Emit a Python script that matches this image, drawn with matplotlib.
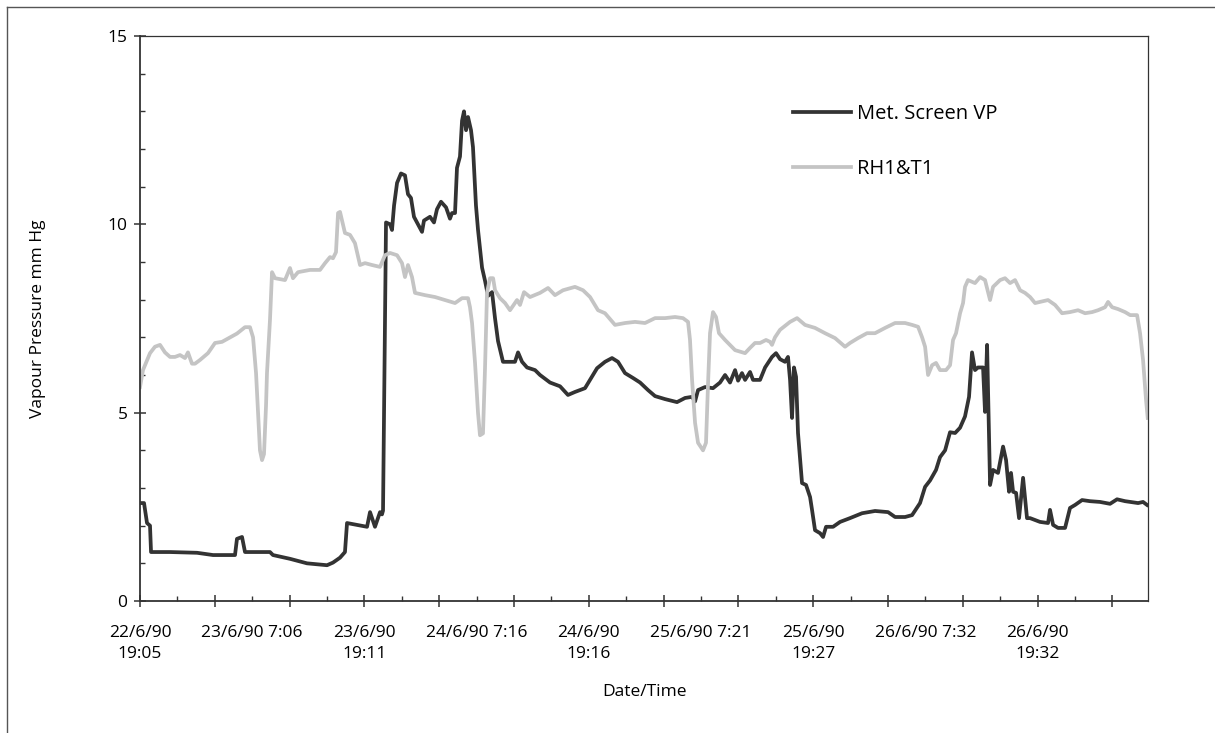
import matplotlib
matplotlib.use("Agg")
import matplotlib.pyplot as plt
from matplotlib.lines import Line2D
from matplotlib.ticker import MultipleLocator

plt.rcParams['font.family'] = ['Open Sans', 'DejaVu Sans']

# Hours elapsed since 22/6/90 19:05
met_hours = [0, 0.43, 0.75, 1.07, 1.18, 3.21, 6.10, 7.81, 10.16, 10.37, 10.91, 11.23,
             13.90, 14.22, 16.04, 17.86, 20.0, 20.64, 21.39, 21.92, 22.14, 24.28, 24.6,
             25.13, 25.67, 25.88, 25.99, 26.31, 26.74, 26.95, 27.17, 27.49, 27.91, 28.34,
             28.66, 28.98, 29.3, 29.73, 30.16, 30.37, 31.01, 31.44, 31.76, 32.19, 32.73,
             33.15, 33.37, 33.69, 33.9, 34.22, 34.44, 34.65, 34.87, 35.08, 35.4, 35.61,
             35.93, 36.15, 36.58, 36.9, 37.22, 37.65, 37.97, 38.29, 38.82, 40.1, 40.43,
             40.86, 41.39, 42.25, 42.78, 43.85, 44.92, 45.77, 46.52, 47.59, 48.13, 48.88,
             49.73, 50.48, 51.12, 51.87, 52.73, 53.48, 54.33, 55.08, 56.15, 57.43, 58.29,
             59.04, 59.36, 59.68, 60.43, 61.28, 62.03, 62.57, 63.1, 63.64, 63.96, 64.38,
             64.71, 65.24, 65.56, 66.31, 66.85, 67.59, 68.02, 68.45, 68.98, 69.30, 69.52,
             69.73, 69.94, 70.16, 70.37, 70.80, 71.23, 71.66, 71.87, 72.19, 72.73, 73.05,
             73.37, 74.12, 74.87, 75.93, 77.22, 78.61, 80.0, 80.75, 81.82, 82.57, 83.42,
             83.96, 84.49, 85.13, 85.56, 86.1, 86.63, 87.17, 87.7, 88.23, 88.66, 88.98,
             89.3, 89.62, 90.16, 90.37, 90.59, 90.91, 91.23, 91.76, 92.3, 92.62, 92.94,
             93.15, 93.37, 93.69, 94.01, 94.44, 94.86, 95.19, 96.25, 97.11, 97.32, 97.65,
             98.18, 98.93, 99.46, 100.0, 100.75, 101.6, 102.67, 103.74, 104.49, 105.35,
             106.74, 107.27, 107.7]
met_vp = [2.6, 2.6, 2.07, 2.0, 1.3, 1.3, 1.28, 1.22, 1.22, 1.65, 1.7, 1.3,
          1.3, 1.22, 1.12, 1.0, 0.95, 1.02, 1.15, 1.3, 2.07, 1.97, 2.36,
          1.97, 2.36, 2.3, 2.4, 10.05, 10.0, 9.85, 10.5, 11.1, 11.35, 11.3,
          10.8, 10.7, 10.2, 10.0, 9.8, 10.1, 10.2, 10.05, 10.4, 10.6, 10.45,
          10.15, 10.3, 10.3, 11.5, 11.8, 12.75, 13.0, 12.5, 12.85, 12.5, 12.05,
          10.5, 9.85, 8.85, 8.5, 8.1, 8.2, 7.5, 6.9, 6.35, 6.35, 6.6,
          6.35, 6.2, 6.13, 6.0, 5.8, 5.7, 5.47, 5.55, 5.65, 5.87, 6.18,
          6.35, 6.45, 6.35, 6.05, 5.92, 5.8, 5.6, 5.44, 5.36, 5.28, 5.39,
          5.42, 5.3, 5.6, 5.68, 5.65, 5.8, 6.0, 5.8, 6.13, 5.85, 6.05,
          5.87, 6.08, 5.87, 5.87, 6.2, 6.48, 6.58, 6.42, 6.35, 6.48, 5.87,
          4.86, 6.2, 5.95, 4.46, 3.13, 3.08, 2.76, 2.42, 1.88, 1.8, 1.7,
          1.97, 1.97, 2.1, 2.2, 2.33, 2.39, 2.36, 2.23, 2.23, 2.28, 2.6,
          3.03, 3.2, 3.48, 3.82, 4.0, 4.48, 4.46, 4.6, 4.9, 5.42, 6.6,
          6.13, 6.2, 6.2, 5.02, 6.8, 3.08, 3.48, 3.4, 4.1, 3.74, 2.9,
          3.4, 2.9, 2.87, 2.2, 3.27, 2.2, 2.2, 2.1, 2.07, 2.42, 2.02,
          1.94, 1.94, 2.47, 2.55, 2.68, 2.65, 2.63, 2.58, 2.7, 2.65,
          2.6, 2.63, 2.55]

rh_hours = [0, 0.32, 1.07, 1.6, 2.14, 2.67, 3.21, 3.74, 4.28, 4.81, 5.13, 5.56, 5.88,
            6.42, 7.27, 8.02, 8.77, 9.63, 10.37, 11.23, 11.76, 12.09, 12.41, 12.62,
            12.83, 13.05, 13.26, 13.48, 13.58, 13.9, 14.12, 14.44, 15.51, 16.04, 16.36,
            16.9, 18.18, 19.25, 19.79, 20.32, 20.64, 20.96, 21.18, 21.39, 21.92, 22.46,
            22.99, 23.53, 24.06, 24.81, 25.67, 26.2, 26.74, 27.49, 28.02, 28.34, 28.66,
            29.09, 29.41, 30.48, 31.55, 32.62, 33.69, 34.44, 35.08, 35.29, 35.51, 35.83,
            36.15, 36.36, 36.68, 36.9, 37.11, 37.43, 37.76, 37.97, 38.5, 39.04, 39.57,
            40.32, 40.64, 41.07, 41.71, 42.78, 43.64, 44.38, 45.24, 46.52, 47.38, 48.13,
            48.98, 49.73, 50.8, 51.87, 52.94, 54.01, 55.08, 56.15, 57.22, 58.07, 58.61,
            58.82, 59.04, 59.36, 59.68, 60.21, 60.53, 60.75, 60.96, 61.28, 61.6, 61.92,
            62.57, 63.64, 64.71, 65.24, 65.77, 66.31, 66.95, 67.38, 67.59, 67.91, 68.45,
            69.52, 70.27, 71.12, 72.19, 73.26, 74.33, 75.4, 75.93, 76.79, 77.75, 78.61,
            79.68, 80.75, 81.82, 82.57, 83.21, 83.64, 83.96, 84.28, 84.71, 85.13, 85.56,
            86.2, 86.63, 86.95, 87.27, 87.7, 88.02, 88.23, 88.55, 89.3, 89.84, 90.37,
            90.91, 91.23, 91.98, 92.51, 93.05, 93.58, 94.12, 94.65, 95.19, 95.72, 96.25,
            97.11, 97.86, 98.61, 99.46, 100.32, 101.07, 101.82, 102.46, 103.21, 103.53,
            103.96, 104.6, 105.35, 105.89, 106.63, 106.95, 107.27, 107.59, 107.77]
rh_vp = [5.68, 6.13, 6.58, 6.75, 6.8, 6.6, 6.48, 6.48, 6.53, 6.45, 6.6, 6.3, 6.3,
         6.4, 6.58, 6.85, 6.88, 7.0, 7.1, 7.27, 7.27, 7.0, 6.05, 5.0,
         4.0, 3.74, 3.9, 5.2, 6.05, 7.46, 8.73, 8.57, 8.52, 8.84, 8.57,
         8.73, 8.79, 8.79, 8.97, 9.13, 9.1, 9.26, 10.3, 10.33, 9.77, 9.72,
         9.5, 8.92, 8.97, 8.92, 8.87, 9.18, 9.24, 9.18, 8.97, 8.6, 8.92,
         8.6, 8.18, 8.12, 8.07, 7.99, 7.91, 8.04, 8.04, 7.8, 7.38, 6.32,
         4.99, 4.4, 4.45, 6.2, 8.18, 8.57, 8.57, 8.25, 8.04, 7.91, 7.72,
         7.99, 7.86, 8.2, 8.07, 8.18, 8.31, 8.12, 8.25, 8.34, 8.25, 8.07,
         7.72, 7.64, 7.33, 7.38, 7.41, 7.38, 7.51, 7.51, 7.54, 7.51, 7.41,
         6.93, 5.87, 4.73, 4.2, 4.0, 4.2, 5.78, 7.11, 7.67, 7.54, 7.11,
         6.93, 6.66, 6.58, 6.72, 6.85, 6.85, 6.93, 6.88, 6.8, 7.0, 7.2,
         7.41, 7.51, 7.33, 7.25, 7.11, 6.98, 6.75, 6.85, 6.98, 7.11, 7.11,
         7.25, 7.38, 7.38, 7.33, 7.28, 7.0, 6.75, 6.0, 6.26, 6.32, 6.13,
         6.13, 6.26, 6.93, 7.11, 7.64, 7.91, 8.34, 8.52, 8.44, 8.6, 8.52,
         7.99, 8.34, 8.52, 8.57, 8.44, 8.52, 8.25, 8.18, 8.07, 7.91, 7.94,
         7.99, 7.86, 7.64, 7.67, 7.72, 7.64, 7.67, 7.72, 7.8, 7.94,
         7.8, 7.75, 7.67, 7.59, 7.59, 7.11, 6.4, 5.34, 4.86]

label_hours = [0, 12, 24, 36, 48, 60, 72, 84, 96]
date_labels = ["22/6/90\n19:05", "23/6/90 7:06", "23/6/90\n19:11", "24/6/90 7:16",
               "24/6/90\n19:16", "25/6/90 7:21", "25/6/90\n19:27", "26/6/90 7:32",
               "26/6/90\n19:32"]

W, H = 1215, 733
fig = plt.figure(figsize=(W / 100, H / 100), dpi=100)
ax = fig.add_axes([140 / W, (H - 601) / H, (1148 - 140) / W, (601 - 36) / H])

ax.plot(met_hours, met_vp, color='#333333', lw=2.7, label='Met. Screen VP',
        solid_joinstyle='round')
ax.plot(rh_hours, rh_vp, color='#c4c4c4', lw=2.7, label='RH1&T1',
        solid_joinstyle='round')

ax.set_xlim(0, 107.8)
ax.set_ylim(0, 15)

for s in ['left', 'bottom']:
    ax.spines[s].set_color('#333333')
    ax.spines[s].set_linewidth(1.3)
for s in ['top', 'right']:
    ax.spines[s].set_color('#333333')
    ax.spines[s].set_linewidth(0.9)

ax.yaxis.set_major_locator(MultipleLocator(5))
ax.yaxis.set_minor_locator(MultipleLocator(1))
ax.xaxis.set_major_locator(MultipleLocator(8))
ax.xaxis.set_minor_locator(MultipleLocator(4))
ax.tick_params(axis='both', which='major', direction='inout', length=8, width=1.1,
               color='#333333', labelsize=12.5)
ax.tick_params(axis='both', which='minor', direction='in', length=3.5, width=1.0,
               color='#333333')
ax.tick_params(axis='y', which='major', pad=5)
ax.tick_params(axis='x', which='both', labelbottom=False)

sec = ax.secondary_xaxis('bottom')
sec.set_xticks(label_hours, date_labels)
sec.tick_params(length=0, pad=17, labelsize=12.5)
sec.spines['bottom'].set_visible(False)
for t in sec.get_xticklabels():
    t.set_multialignment('center')
    t.set_linespacing(1.45)

ax.set_ylabel('Vapour Pressure mm Hg', fontsize=12.5, labelpad=44)
fig.text(644 / W, 1 - 692 / H, 'Date/Time', fontsize=12.5, ha='center', va='center')

ax.legend(loc='upper left', bbox_to_anchor=(793 / W, 1 - 104 / H),
          bbox_transform=fig.transFigure, frameon=False, fontsize=14.5,
          handlelength=2.9, handletextpad=0.3, labelspacing=1.75,
          borderpad=0, borderaxespad=0)

# Outer frame around the chart area
fig.add_artist(Line2D([6.5 / W, 6.5 / W], [0, 1 - 6.5 / H], transform=fig.transFigure,
                      color='#555555', lw=1))
fig.add_artist(Line2D([6.5 / W, 1], [1 - 6.5 / H, 1 - 6.5 / H], transform=fig.transFigure,
                      color='#555555', lw=1))

fig.savefig('out.png', dpi=100)
